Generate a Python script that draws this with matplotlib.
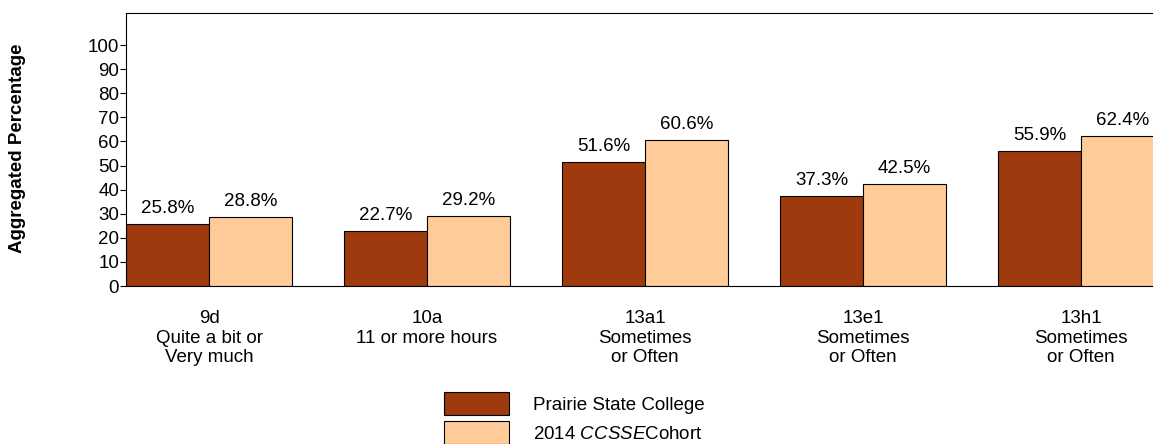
import numpy as np
import matplotlib
matplotlib.use('Agg')
import matplotlib.pyplot as plt

plt.rcParams['font.family'] = ['Liberation Sans', 'DejaVu Sans']
plt.rcParams['mathtext.fontset'] = 'custom'
plt.rcParams['mathtext.rm'] = 'Liberation Sans'
plt.rcParams['mathtext.it'] = 'Liberation Sans:italic'

# data
categories = ['9d\nQuite a bit or\nVery much',
              '10a\n11 or more hours',
              '13a1\nSometimes\nor Often',
              '13e1\nSometimes\nor Often',
              '13h1\nSometimes\nor Often']
college = [25.8, 22.7, 51.6, 37.3, 55.9]
cohort = [28.8, 29.2, 60.6, 42.5, 62.4]
series_names = ['Prairie State College', '2014 $\\mathit{CCSSE}$Cohort']
yticks = [0, 10, 20, 30, 40, 50, 60, 70, 80, 90, 100]

brown = '#9E3A0E'
peach = '#FFCC99'
fs = 13.5

fig = plt.figure(figsize=(11.53, 4.44), dpi=100)
ax = fig.add_axes([126 / 1153, (444 - 286) / 444, 1 - 126 / 1153, (286 - 13) / 444])

x = np.arange(len(categories))
w = 0.381
b1 = ax.bar(x - w / 2, college, w, color=brown, edgecolor='black', linewidth=0.8, label=series_names[0])
b2 = ax.bar(x + w / 2, cohort, w, color=peach, edgecolor='black', linewidth=0.8, label=series_names[1])

for bars, vals in ((b1, college), (b2, cohort)):
    for r, v in zip(bars, vals):
        ax.annotate('%.1f%%' % v, (r.get_x() + r.get_width() / 2, v), xytext=(0, 5),
                    textcoords='offset points', ha='center', va='bottom', fontsize=fs)

ax.set_xlim(-w, len(categories) - 1 + 0.33)
ax.set_ylim(0, 113.3)
ax.set_yticks(yticks)
ax.tick_params(axis='y', labelsize=fs, length=4, width=0.8, pad=1)
ax.set_xticks([])
ax.spines['right'].set_visible(False)
for s in ('left', 'top', 'bottom'):
    ax.spines[s].set_linewidth(0.8)

for xi, lab in zip(x, categories):
    ax.text(xi, -10, lab, ha='center', va='top', fontsize=fs, linespacing=1.2,
            transform=ax.transData)

fig.text(18 / 1153, 1 - 148 / 444, 'Aggregated Percentage', rotation=90, ha='center', va='center',
         fontsize=fs, fontweight='bold')

fig.legend(handles=[b1, b2], labels=series_names, loc='upper left',
           bbox_to_anchor=(440 / 1153, 1 - 388 / 444), frameon=False, fontsize=fs,
           handlelength=3.5, handleheight=1.55, handletextpad=1.25, labelspacing=0.3,
           borderaxespad=0, borderpad=0.2)

fig.savefig('out.png', dpi=100)
